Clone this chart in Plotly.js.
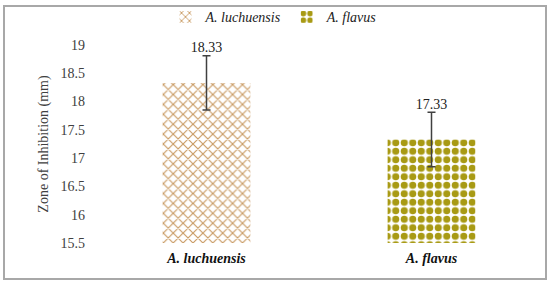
<!DOCTYPE html>
<html>
<head>
<meta charset="utf-8">
<script src="https://cdn.plot.ly/plotly-3.0.1.min.js"></script>
<style>
  html, body { margin: 0; padding: 0; background: #fff; }
  #wrap { position: relative; width: 550px; height: 284px; }
  #chart { width: 550px; height: 284px; }
  #frame { position: absolute; left: 3px; top: 5px; width: 540px; height: 271px;
           border: 2px solid #a8a8a8; pointer-events: none; }
</style>
</head>
<body>
<div id="wrap"><div id="chart"></div><div id="frame"></div></div>
<script>
const categories = ["A. luchuensis", "A. flavus"];
const values = [18.33, 17.33];
const errors = [0.48, 0.48];
const tickVals = [15.5, 16, 16.5, 17, 17.5, 18, 18.5, 19];

const serif = "Liberation Serif";
const colors = ["#c99a62", "#a89a14"];
const shapes = ["x", "."];
const sizes = [7, 8.5];
const solid = [0.3, 0.55];

const traces = categories.map((c, i) => ({
  type: "bar",
  name: c,
  x: [c],
  y: [values[i] - 15.5],
  base: 15.5,
  marker: {
    color: "white",
    line: { width: 0 },
    pattern: { shape: shapes[i], fgcolor: colors[i], bgcolor: "white",
               size: sizes[i], solidity: solid[i], fillmode: "replace" }
  },
  error_y: { type: "data", array: [errors[i]], color: "#404040", thickness: 1.5, width: 4 },
  hoverinfo: "skip"
}));

traces.push({
  type: "scatter",
  mode: "text",
  x: categories,
  y: values.map((v, i) => v + errors[i]),
  text: values.map(v => v.toFixed(2)),
  textposition: "top center",
  textfont: { family: serif, size: 14, color: "#222" },
  showlegend: false,
  hoverinfo: "skip",
  cliponaxis: false
});

const layout = {
  width: 550, height: 284,
  margin: { l: 94, r: 6, t: 45, b: 41, autoexpand: false },
  paper_bgcolor: "white", plot_bgcolor: "white",
  barmode: "overlay",
  bargap: 0.61,
  showlegend: true,
  font: { family: serif },
  legend: { orientation: "h", x: 0.4, xanchor: "center", y: 1.14, yanchor: "middle",
            font: { family: serif, size: 14, color: "#222", style: "italic" },
            itemwidth: 30, traceorder: "normal" },
  xaxis: {
    type: "category", categoryorder: "array", categoryarray: categories,
    range: [-0.5, 1.5], automargin: false,
    showline: false, showgrid: false, zeroline: false, ticks: "",
    tickfont: { family: serif, size: 14, color: "#111", weight: "bold", style: "italic" },
    ticklabelstandoff: 5
  },
  yaxis: {
    range: [15.5, 19], automargin: false,
    tickvals: tickVals,
    ticktext: tickVals.map(String),
    showline: false, showgrid: false, zeroline: false, ticks: "",
    tickfont: { family: serif, size: 14, color: "#404040" },
    ticklabelstandoff: 8,
    title: { text: "Zone of Inhibition (mm)", font: { family: serif, size: 14, color: "#404040" }, standoff: 8 }
  }
};

Plotly.newPlot("chart", traces, layout, { displayModeBar: false, staticPlot: true });
</script>
</body>
</html>
